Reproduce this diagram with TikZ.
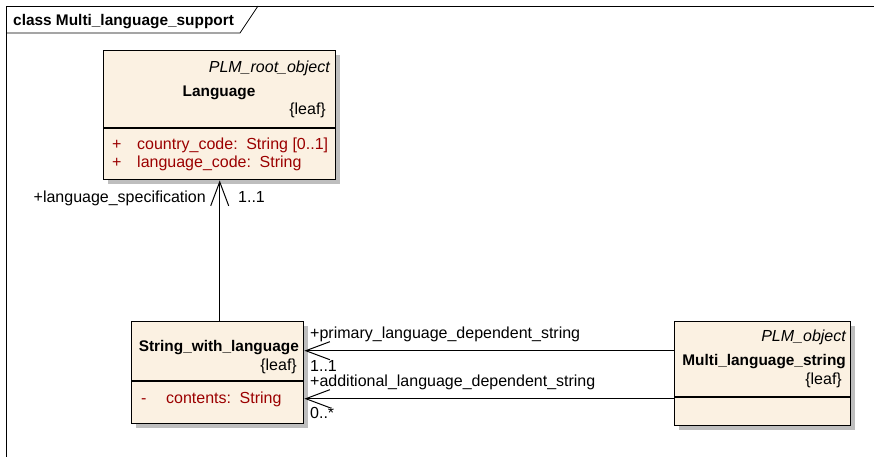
\documentclass[tikz,border=0pt]{standalone}
\usepackage{fontspec}
\setmainfont{Liberation Sans}
\usepackage{tikz}
\usetikzlibrary{
    arrows.meta,
    positioning,
    shadows,
    calc
}

\begin{document}
\begin{tikzpicture}[x=1pt, y=-1pt,
    every node/.style={font=\fontsize{16}{18}\selectfont, inner sep=0pt, text height=13pt, text depth=0pt},
    umlbox/.style={draw=black, line width=1.4pt, fill=boxfill, anchor=north west,
        drop shadow={shadow xshift=4pt, shadow yshift=-4pt, fill=shadowgray, opacity=1}},
    divider/.style={line width=1.4pt},
    cname/.style={font=\fontsize{15.4}{18}\selectfont\bfseries},
    stereo/.style={font=\fontsize{16}{18}\selectfont\itshape, anchor=east},
    attr/.style={text=attrred, anchor=west},
    assoc/.style={line width=1pt, -{Straight Barb[length=24pt, width=18pt]}}
]

% Colors (EA class boxes)
\definecolor{boxfill}{RGB}{251,241,226}
\definecolor{shadowgray}{RGB}{190,190,190}
\definecolor{attrred}{RGB}{155,0,0}

\useasboundingbox (0,0) rectangle (874,457);
\clip (0,0) rectangle (874,457);

% Frame and title tab
\draw[line width=0.8pt] (6,6) rectangle (890,480);
\draw[line width=0.8pt] (6,33) -- (240,33) -- (258,6);
\node[cname, anchor=west] (title) at (13,19) {class Multi\_language\_support};

% Language
\node[umlbox, minimum width=232pt, minimum height=129pt] (lang) at (103,50) {};
\draw[divider] ([yshift=-78pt]lang.north west) -- ([yshift=-78pt]lang.north east);
\node[stereo] (lang-st) at (330,66) {PLM\_root\_object};
\node[cname] (lang-nm) at (219,90) {Language};
\node[anchor=east] (lang-lf) at (326,108) {\{leaf\}};
\node[attr] (lang-v1) at (112,143) {+};
\node[attr] (lang-a1) at (137,143) {country\_code: \,String [0..1]};
\node[attr] (lang-v2) at (112,161) {+};
\node[attr] (lang-a2) at (137,161) {language\_code: \,String};

% String_with_language
\node[umlbox, minimum width=172pt, minimum height=102pt] (swl) at (131,321) {};
\draw[divider] ([yshift=-60pt]swl.north west) -- ([yshift=-60pt]swl.north east);
\node[cname, anchor=east] (swl-nm) at (299,345) {String\_with\_language};
\node[anchor=east] (swl-lf) at (297,364) {\{leaf\}};
\node[attr] (swl-v1) at (141,397) {-};
\node[attr] (swl-a1) at (166,397) {contents: \,String};

% Multi_language_string
\node[umlbox, minimum width=176pt, minimum height=104pt] (mls) at (674,321) {};
\draw[divider] ([yshift=-76pt]mls.north west) -- ([yshift=-76pt]mls.north east);
\node[stereo] (mls-st) at (846,335) {PLM\_object};
\node[cname, anchor=east] (mls-nm) at (846,359) {Multi\_language\_string};
\node[anchor=east] (mls-lf) at (842,378) {\{leaf\}};

% Associations
\draw[assoc] (swl.north -| lang.south) -- (lang.south);
\node[anchor=east] (spec-role) at (206,196) {+language\_specification};
\node[anchor=west] (spec-mult) at (238,196) {1..1};

\draw[assoc] ([yshift=23pt]mls.west) -- ([yshift=23pt]mls.west -| swl.east);
\node[anchor=west] (prim-role) at (310,332) {+primary\_language\_dependent\_string};
\node[anchor=west] (prim-mult) at (310,365) {1..1};

\draw[assoc] ([yshift=-25pt]mls.west) -- ([yshift=-25pt]mls.west -| swl.east);
\node[anchor=west] (add-role) at (310,380) {+additional\_language\_dependent\_string};
\node[anchor=west] (add-mult) at (310,412) {0..*};

\end{tikzpicture}
\end{document}
